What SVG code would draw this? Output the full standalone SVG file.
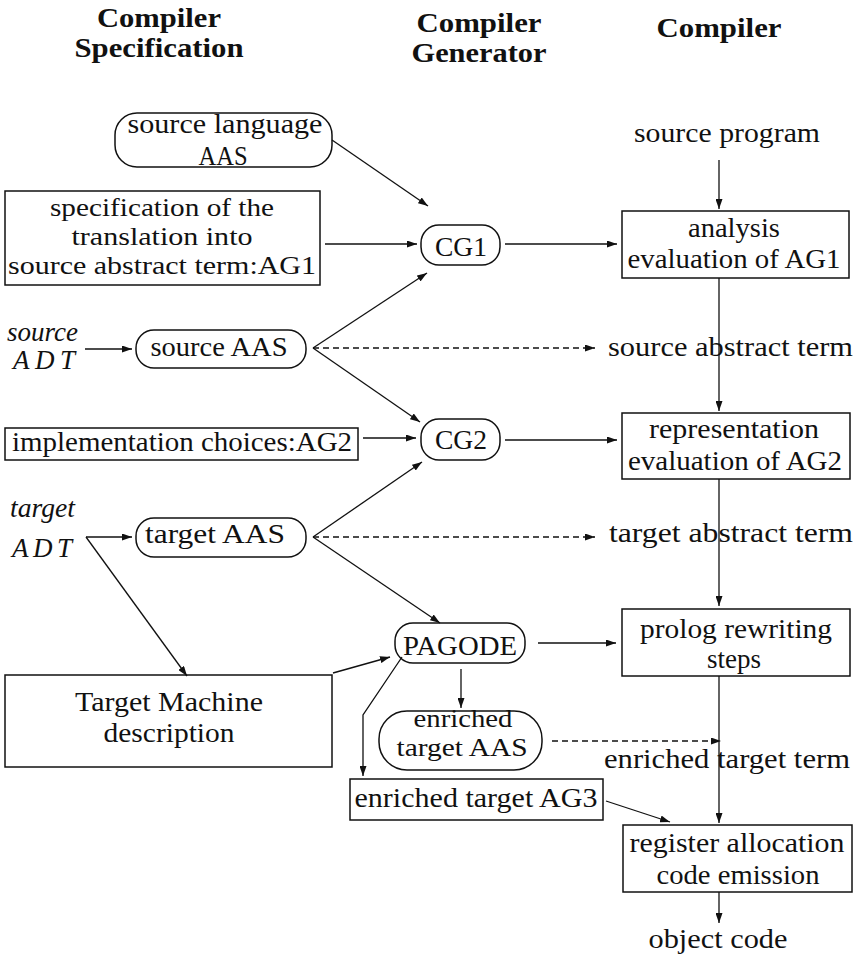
<svg xmlns="http://www.w3.org/2000/svg" width="856" height="957" viewBox="0 0 856 957">
<style>
text{font-family:"Liberation Serif","Times New Roman",serif;font-size:27px;fill:#111}
.h{font-weight:bold;font-size:27px;text-anchor:middle}
.c{text-anchor:middle}
.s{font-size:26px}
.i{font-style:italic}
.box{fill:none;stroke:#111;stroke-width:1.5}
.ln{fill:none;stroke:#111;stroke-width:1.3}
.d{stroke-dasharray:6 4}
.a{marker-end:url(#ah)}
</style>
<defs>
<marker id="ah" markerUnits="userSpaceOnUse" markerWidth="10" markerHeight="7" refX="10" refY="3.5" orient="auto">
<path d="M0,0 L10,3.5 L0,7 z" fill="#111"/>
</marker>
</defs>
<rect width="856" height="957" fill="#fff"/>
<g id="headers">
<text class="h" x="159" y="27" textLength="124" lengthAdjust="spacingAndGlyphs">Compiler</text>
<text class="h" x="159" y="57" textLength="169" lengthAdjust="spacingAndGlyphs">Specification</text>
<text class="h" x="479" y="32" textLength="125" lengthAdjust="spacingAndGlyphs">Compiler</text>
<text class="h" x="479" y="62" textLength="135" lengthAdjust="spacingAndGlyphs">Generator</text>
<text class="h" x="719" y="37" textLength="125" lengthAdjust="spacingAndGlyphs">Compiler</text>
</g>
<g id="source-language-aas">
<rect class="box" x="115" y="113" width="217" height="54" rx="22"/>
<text class="c" x="225" y="133" textLength="195" lengthAdjust="spacingAndGlyphs">source language</text>
<text class="c" x="223" y="165" textLength="49" lengthAdjust="spacingAndGlyphs">AAS</text>
</g>
<g id="spec-ag1">
<rect class="box" x="5" y="191" width="315" height="94"/>
<text class="c s" x="162" y="216" textLength="224" lengthAdjust="spacingAndGlyphs">specification of the</text>
<text class="c s" x="162" y="245" textLength="181" lengthAdjust="spacingAndGlyphs">translation into</text>
<text class="c s" x="162" y="274" textLength="308" lengthAdjust="spacingAndGlyphs">source abstract term:AG1</text>
</g>
<g id="cg1">
<rect class="box" x="421" y="225" width="79" height="40" rx="18"/>
<text class="c" x="461" y="256" textLength="52" lengthAdjust="spacingAndGlyphs">CG1</text>
</g>
<g id="source-program">
<text class="c" x="727" y="142" textLength="186" lengthAdjust="spacingAndGlyphs">source program</text>
</g>
<g id="analysis">
<rect class="box" x="622" y="211" width="227" height="67"/>
<text class="c" x="734" y="237" textLength="92" lengthAdjust="spacingAndGlyphs">analysis</text>
<text class="c" x="734" y="268" textLength="213" lengthAdjust="spacingAndGlyphs">evaluation of AG1</text>
</g>
<g id="source-adt">
<text class="i" x="7" y="341" font-size="22" textLength="71" lengthAdjust="spacingAndGlyphs">source</text>
<text class="i" x="13" y="369" font-size="24" textLength="62">ADT</text>
</g>
<g id="source-aas">
<rect class="box" x="136" y="330" width="170" height="38" rx="18"/>
<text class="c" x="219" y="356" textLength="137" lengthAdjust="spacingAndGlyphs">source AAS</text>
</g>
<g id="source-abstract-term">
<text x="608" y="356" textLength="245" lengthAdjust="spacingAndGlyphs">source abstract term</text>
</g>
<g id="impl-ag2">
<rect class="box" x="5" y="428" width="353" height="32"/>
<text class="c" x="182" y="451" textLength="340" lengthAdjust="spacingAndGlyphs">implementation choices:AG2</text>
</g>
<g id="cg2">
<rect class="box" x="421" y="419" width="79" height="41" rx="18"/>
<text class="c" x="461" y="449" textLength="52" lengthAdjust="spacingAndGlyphs">CG2</text>
</g>
<g id="representation">
<rect class="box" x="622" y="413" width="228" height="66"/>
<text class="c" x="734" y="438" textLength="170" lengthAdjust="spacingAndGlyphs">representation</text>
<text class="c" x="735" y="470" textLength="214" lengthAdjust="spacingAndGlyphs">evaluation of AG2</text>
</g>
<g id="target-adt">
<text class="i" x="10" y="517" font-size="22" textLength="65" lengthAdjust="spacingAndGlyphs">target</text>
<text class="i" x="12" y="557" font-size="24" textLength="60">ADT</text>
</g>
<g id="target-aas">
<rect class="box" x="136" y="518" width="170" height="39" rx="18"/>
<text class="c" x="215" y="543" textLength="140" lengthAdjust="spacingAndGlyphs">target AAS</text>
</g>
<g id="target-abstract-term">
<text x="609" y="542" textLength="244" lengthAdjust="spacingAndGlyphs">target abstract term</text>
</g>
<g id="pagode">
<rect class="box" x="395" y="623" width="130" height="40" rx="18"/>
<text class="c" x="460" y="655" textLength="114" lengthAdjust="spacingAndGlyphs">PAGODE</text>
</g>
<g id="prolog">
<rect class="box" x="622" y="609" width="228" height="67"/>
<text class="c" x="736" y="638" textLength="192" lengthAdjust="spacingAndGlyphs">prolog rewriting</text>
<text class="c" x="734" y="668" textLength="54" lengthAdjust="spacingAndGlyphs">steps</text>
</g>
<g id="target-machine">
<rect class="box" x="5" y="675" width="327" height="92"/>
<text class="c" x="169" y="711" textLength="188" lengthAdjust="spacingAndGlyphs">Target Machine</text>
<text class="c" x="169" y="742" textLength="131" lengthAdjust="spacingAndGlyphs">description</text>
</g>
<g id="enriched-target-aas">
<rect class="box" x="379" y="711" width="163" height="59" rx="28"/>
<text class="c s" x="463" y="727" textLength="99" lengthAdjust="spacingAndGlyphs">enriched</text>
<text class="c s" x="462" y="756" textLength="131" lengthAdjust="spacingAndGlyphs">target AAS</text>
</g>
<g id="enriched-target-term">
<text x="604" y="768" textLength="246" lengthAdjust="spacingAndGlyphs">enriched target term</text>
</g>
<g id="enriched-target-ag3">
<rect class="box" x="350" y="779" width="253" height="41"/>
<text class="c" x="476" y="807" textLength="243" lengthAdjust="spacingAndGlyphs">enriched target AG3</text>
</g>
<g id="register">
<rect class="box" x="623" y="825" width="229" height="67"/>
<text class="c" x="737" y="852" textLength="215" lengthAdjust="spacingAndGlyphs">register allocation</text>
<text class="c" x="738" y="884" textLength="163" lengthAdjust="spacingAndGlyphs">code emission</text>
</g>
<g id="object-code">
<text class="c" x="718" y="948" textLength="139" lengthAdjust="spacingAndGlyphs">object code</text>
</g>
<g id="connectors">
<line class="ln a" x1="332" y1="140" x2="428" y2="206"/>
<line class="ln a" x1="325" y1="244" x2="417" y2="244"/>
<line class="ln a" x1="505" y1="244" x2="617" y2="244"/>
<line class="ln a" x1="719" y1="160" x2="719" y2="209"/>
<line class="ln a" x1="719" y1="278" x2="719" y2="411"/>
<line class="ln a" x1="85" y1="349" x2="132" y2="349"/>
<line class="ln a" x1="313" y1="348" x2="427" y2="273"/>
<line class="ln a" x1="313" y1="348" x2="420" y2="422"/>
<line class="ln d a" x1="313" y1="348" x2="595" y2="348"/>
<line class="ln a" x1="363" y1="438" x2="416" y2="438"/>
<line class="ln a" x1="505" y1="440" x2="617" y2="440"/>
<line class="ln a" x1="719" y1="479" x2="719" y2="606"/>
<line class="ln a" x1="86" y1="537" x2="132" y2="537"/>
<line class="ln a" x1="86" y1="537" x2="187" y2="676"/>
<line class="ln a" x1="313" y1="537" x2="422" y2="462"/>
<line class="ln a" x1="313" y1="537" x2="440" y2="623"/>
<line class="ln d a" x1="313" y1="537" x2="595" y2="537"/>
<line class="ln a" x1="333" y1="673" x2="390" y2="657"/>
<line class="ln a" x1="538" y1="643" x2="616" y2="643"/>
<line class="ln a" x1="461" y1="669" x2="461" y2="708"/>
<polyline class="ln a" points="402,657 363,715 363,776"/>
<line class="ln a" x1="719" y1="676" x2="719" y2="823"/>
<line class="ln d a" x1="552" y1="741" x2="721" y2="741"/>
<line class="ln a" x1="606" y1="801" x2="670" y2="822"/>
<line class="ln a" x1="719" y1="892" x2="719" y2="923"/>
</g>
</svg>
